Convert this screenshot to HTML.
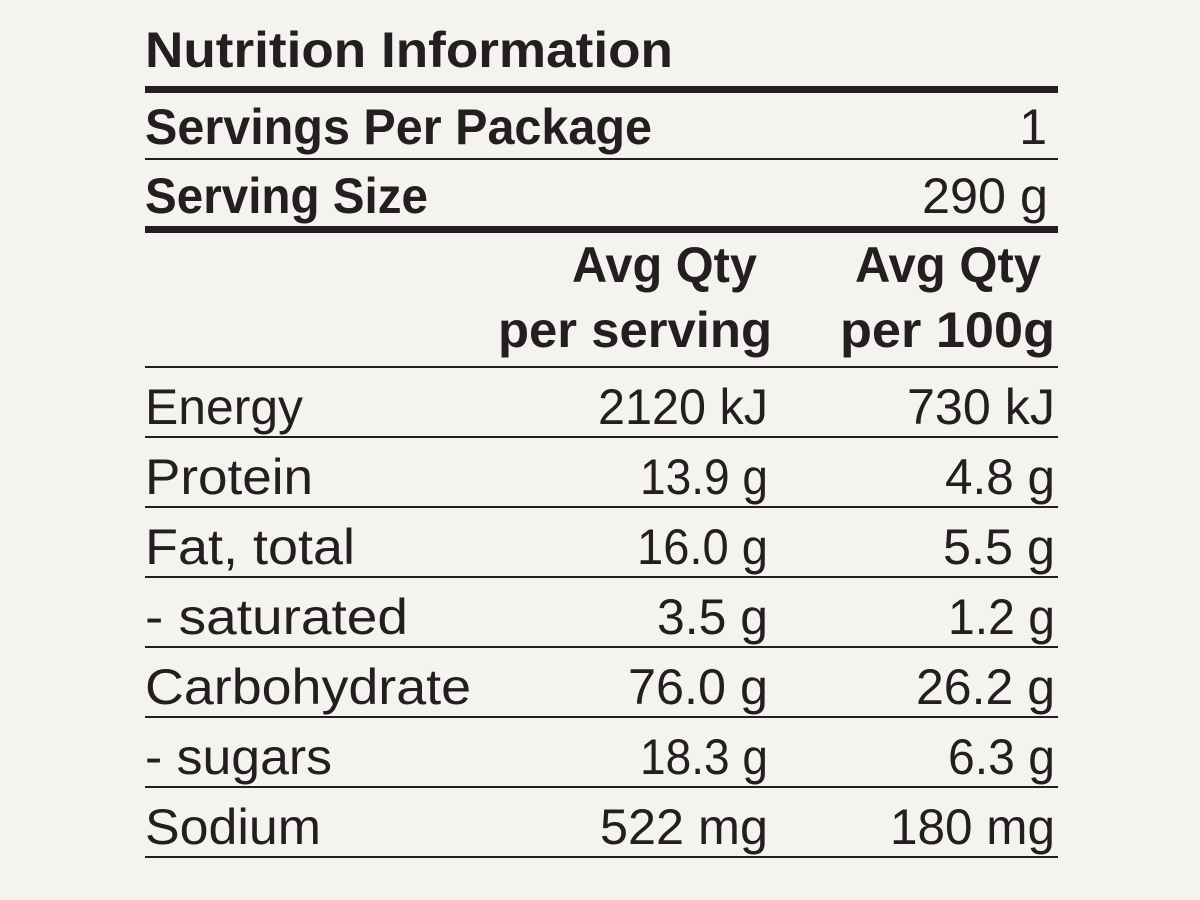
<!DOCTYPE html>
<html><head><style>html,body{margin:0;padding:0;background:#f4f3ef;}svg{display:block}</style></head>
<body>
<svg width="1200" height="900" viewBox="0 0 1200 900" xmlns="http://www.w3.org/2000/svg" font-family="Liberation Sans, sans-serif" fill="#231f20">
<rect width="1200" height="900" fill="#f4f3ef"/>
<g fill="#231f20">
<rect x="145" y="86" width="913" height="7"/>
<rect x="145" y="158" width="913" height="2"/>
<rect x="145" y="226" width="913" height="7"/>
<rect x="145" y="366" width="913" height="2"/>
<rect x="145" y="436" width="913" height="2"/>
<rect x="145" y="506" width="913" height="2"/>
<rect x="145" y="576" width="913" height="2"/>
<rect x="145" y="646" width="913" height="2"/>
<rect x="145" y="716" width="913" height="2"/>
<rect x="145" y="786" width="913" height="2"/>
<rect x="145" y="856" width="913" height="2"/>
</g>
<g font-weight="bold" font-size="50">
<text x="145" y="67" textLength="528" lengthAdjust="spacingAndGlyphs">Nutrition Information</text>
<text x="145" y="144" textLength="507" lengthAdjust="spacingAndGlyphs">Servings Per Package</text>
<text x="145" y="213" textLength="283" lengthAdjust="spacingAndGlyphs">Serving Size</text>
<text x="572" y="282" textLength="185" lengthAdjust="spacingAndGlyphs">Avg Qty</text>
<text x="498" y="347" textLength="274" lengthAdjust="spacingAndGlyphs">per serving</text>
<text x="855" y="282" textLength="186" lengthAdjust="spacingAndGlyphs">Avg Qty</text>
<text x="840" y="347" textLength="215" lengthAdjust="spacingAndGlyphs">per 100g</text>
</g>
<g font-size="50">
<text x="1047" y="144" text-anchor="end">1</text>
<text x="922" y="213" textLength="126" lengthAdjust="spacingAndGlyphs">290 g</text>

<text x="145" y="424" textLength="158" lengthAdjust="spacingAndGlyphs">Energy</text>
<text x="598" y="424" textLength="170" lengthAdjust="spacingAndGlyphs">2120 kJ</text>
<text x="907" y="424" textLength="148" lengthAdjust="spacingAndGlyphs">730 kJ</text>

<text x="145" y="494" textLength="168" lengthAdjust="spacingAndGlyphs">Protein</text>
<text x="640" y="494" textLength="128" lengthAdjust="spacingAndGlyphs">13.9 g</text>
<text x="945" y="494" textLength="110" lengthAdjust="spacingAndGlyphs">4.8 g</text>

<text x="145" y="564" textLength="210" lengthAdjust="spacingAndGlyphs">Fat, total</text>
<text x="637" y="564" textLength="131" lengthAdjust="spacingAndGlyphs">16.0 g</text>
<text x="943" y="564" textLength="112" lengthAdjust="spacingAndGlyphs">5.5 g</text>

<text x="145" y="634" textLength="263" lengthAdjust="spacingAndGlyphs">- saturated</text>
<text x="657" y="634" textLength="111" lengthAdjust="spacingAndGlyphs">3.5 g</text>
<text x="948" y="634" textLength="107" lengthAdjust="spacingAndGlyphs">1.2 g</text>

<text x="145" y="704" textLength="326" lengthAdjust="spacingAndGlyphs">Carbohydrate</text>
<text x="628" y="704" textLength="140" lengthAdjust="spacingAndGlyphs">76.0 g</text>
<text x="916" y="704" textLength="139" lengthAdjust="spacingAndGlyphs">26.2 g</text>

<text x="145" y="774" textLength="187" lengthAdjust="spacingAndGlyphs">- sugars</text>
<text x="640" y="774" textLength="128" lengthAdjust="spacingAndGlyphs">18.3 g</text>
<text x="948" y="774" textLength="107" lengthAdjust="spacingAndGlyphs">6.3 g</text>

<text x="145" y="844" textLength="176" lengthAdjust="spacingAndGlyphs">Sodium</text>
<text x="600" y="844" textLength="168" lengthAdjust="spacingAndGlyphs">522 mg</text>
<text x="890" y="844" textLength="165" lengthAdjust="spacingAndGlyphs">180 mg</text>
</g>
</svg>
</body></html>
